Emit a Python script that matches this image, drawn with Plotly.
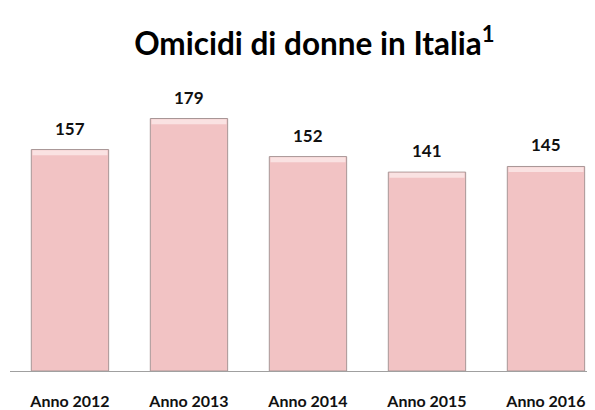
import plotly.graph_objects as go

categories = ["Anno 2012", "Anno 2013", "Anno 2014", "Anno 2015", "Anno 2016"]
values = [157, 179, 152, 141, 145]
title_text = "<b>Omicidi di donne in Italia<sup>1</sup></b>"

bar_color = "#F2C3C4"
edge_color = "#A89696"

fig = go.Figure()
fig.add_trace(go.Bar(
    x=categories, y=values, width=0.65,
    marker=dict(color=bar_color, line=dict(color=edge_color, width=1)),
    hoverinfo="skip",
))
# light bevel highlight along the top of each bar
fig.add_trace(go.Bar(
    x=categories, y=[3.5] * len(values), base=[v - 4.0 for v in values], width=0.63,
    marker=dict(color="#FAE2E2", line=dict(width=0)),
    hoverinfo="skip",
))

for c, v in zip(categories, values):
    fig.add_annotation(x=c, y=v, text=f"<b>{v}</b>", showarrow=False,
                       yanchor="bottom", yshift=9,
                       font=dict(family="Lato", size=17, color="#111111"))

fig.update_layout(
    width=587, height=402,
    margin=dict(l=2, r=0, t=72, b=34),
    paper_bgcolor="white", plot_bgcolor="white",
    barmode="overlay",
    showlegend=False,
    title=dict(text=title_text, x=0.522, xanchor="center", y=0.91, yanchor="middle",
               font=dict(family="Lato", size=31.5, color="#000000")),
    xaxis=dict(type="category", range=[-0.504, 4.412], showline=True,
               linecolor="#A0A0A0", linewidth=1, ticks="", showgrid=False,
               tickfont=dict(family="Lato", size=16, color="#111111"),
               ticklabelstandoff=16, fixedrange=True),
    yaxis=dict(range=[0, 206.3], visible=False, showgrid=False, fixedrange=True),
)
fig.update_xaxes(tickvals=categories, ticktext=[f"<b>{c}</b>" for c in categories])

fig.write_html("out.html")
